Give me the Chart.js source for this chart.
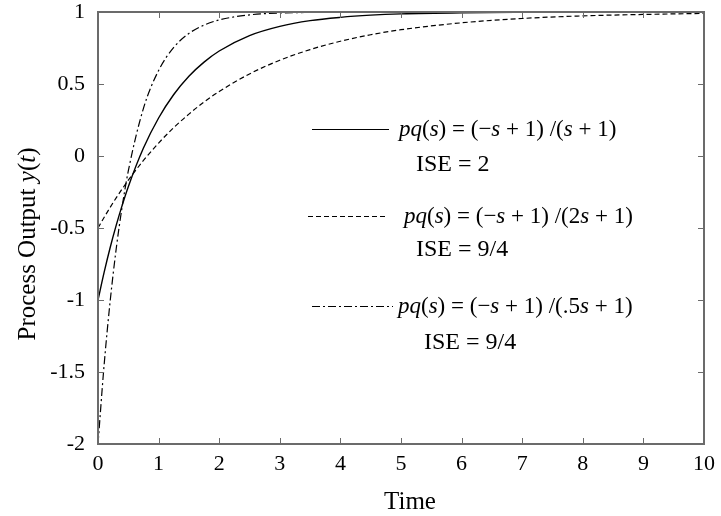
<!DOCTYPE html>
<html lang="en">
<head>
    <meta charset="UTF-8">
    <title>Process Output</title>
    <script src="https://cdn.jsdelivr.net/npm/chart.js"></script>
    <style>
        html, body { margin: 0; padding: 0; background: #ffffff; }
        #wrap { width: 721px; height: 516px; position: relative; }
    </style>
</head>
<body>
    <div id="wrap"><canvas id="respChart" width="721" height="516"></canvas></div>

    <script>
        // time samples and step responses
        const tiempo = [0, 0.1, 0.2, 0.3, 0.4, 0.5, 0.75, 1, 1.25, 1.5, 1.75, 2, 2.5, 3, 3.5, 4, 4.5, 5, 6, 7, 8, 9, 10];
        const salidaS1 = [-1, -0.810, -0.637, -0.482, -0.341, -0.213, 0.055, 0.264, 0.427, 0.554, 0.652, 0.729, 0.836, 0.900, 0.940, 0.963, 0.978, 0.987, 0.995, 0.998, 0.999, 1.0, 1.0];
        const salidaS2 = [-0.5, -0.427, -0.357, -0.291, -0.228, -0.168, -0.031, 0.090, 0.197, 0.291, 0.375, 0.448, 0.570, 0.665, 0.739, 0.797, 0.842, 0.877, 0.925, 0.955, 0.973, 0.983, 0.990];
        const salidaS05 = [-2, -1.456, -1.011, -0.646, -0.348, -0.104, 0.331, 0.594, 0.754, 0.851, 0.909, 0.945, 0.980, 0.993, 0.997, 0.999, 1.0, 1.0, 1.0, 1.0, 1.0, 1.0, 1.0];

        const xTicks = [0, 1, 2, 3, 4, 5, 6, 7, 8, 9, 10];
        const yTicks = [-2, -1.5, -1, -0.5, 0, 0.5, 1];

        const fuente = "'Liberation Serif', 'Times New Roman', serif";

        function puntos(ys) {
            return tiempo.map((t, i) => ({ x: t, y: ys[i] }));
        }

        // draws a line of text made of italic / upright pieces
        function textoMixto(ctx, partes, x, y, size) {
            let cx = x;
            partes.forEach(p => {
                ctx.font = (p[1] ? 'italic ' : '') + size + 'px ' + fuente;
                ctx.fillText(p[0], cx, y);
                cx += ctx.measureText(p[0]).width;
            });
            return cx - x;
        }

        const leyendas = [
            { dash: [], y: 129, x0: 312, x1: 389, tx: 399, isey: 165, isex: 416,
              partes: [['pq', 1], ['(', 0], ['s', 1], [') = (\u2212', 0], ['s', 1], [' + 1) /(', 0], ['s', 1], [' + 1)', 0]],
              ise: 'ISE = 2' },
            { dash: [5, 3], y: 216, x0: 308, x1: 386, tx: 404, isey: 250, isex: 416,
              partes: [['pq', 1], ['(', 0], ['s', 1], [') = (\u2212', 0], ['s', 1], [' + 1) /(2', 0], ['s', 1], [' + 1)', 0]],
              ise: 'ISE = 9/4' },
            { dash: [8, 3, 2, 3], y: 306, x0: 312, x1: 393, tx: 398, isey: 343, isex: 424,
              partes: [['pq', 1], ['(', 0], ['s', 1], [') = (\u2212', 0], ['s', 1], [' + 1) /(.5', 0], ['s', 1], [' + 1)', 0]],
              ise: 'ISE = 9/4' }
        ];

        const marcoPlugin = {
            id: 'marco',
            afterDraw(chart) {
                const ctx = chart.ctx;
                const a = chart.chartArea;
                const xs = chart.scales.x, ys = chart.scales.y;
                ctx.save();
                // frame
                ctx.strokeStyle = '#6b6b6b';
                ctx.lineWidth = 2;
                ctx.strokeRect(a.left, a.top, a.right - a.left, a.bottom - a.top);
                // inward ticks on all sides
                ctx.lineWidth = 1;
                xTicks.forEach(v => {
                    const px = Math.round(xs.getPixelForValue(v)) + 0.5;
                    ctx.beginPath();
                    ctx.moveTo(px, a.bottom); ctx.lineTo(px, a.bottom - 6);
                    ctx.moveTo(px, a.top); ctx.lineTo(px, a.top + 6);
                    ctx.stroke();
                });
                yTicks.forEach(v => {
                    const py = Math.round(ys.getPixelForValue(v)) + 0.5;
                    ctx.beginPath();
                    ctx.moveTo(a.left, py); ctx.lineTo(a.left + 6, py);
                    ctx.moveTo(a.right, py); ctx.lineTo(a.right - 6, py);
                    ctx.stroke();
                });

                // legend inside the plot
                ctx.fillStyle = '#000';
                ctx.textBaseline = 'middle';
                ctx.textAlign = 'left';
                leyendas.forEach(l => {
                    ctx.strokeStyle = '#000';
                    ctx.lineWidth = 1.2;
                    ctx.setLineDash(l.dash);
                    ctx.beginPath();
                    ctx.moveTo(l.x0, l.y + 0.5); ctx.lineTo(l.x1, l.y + 0.5);
                    ctx.stroke();
                    ctx.setLineDash([]);
                    textoMixto(ctx, l.partes, l.tx, l.y + 1, 23);
                    textoMixto(ctx, [[l.ise, 0]], l.isex, l.isey, 24);
                });

                // axis titles
                ctx.textBaseline = 'middle';
                ctx.font = '25px ' + fuente;
                const w = ctx.measureText('Time').width;
                ctx.fillText('Time', 410 - w / 2, 502);

                ctx.translate(28, 244);
                ctx.rotate(-Math.PI / 2);
                const partesY = [['Process Output ', 0], ['y', 1], ['(', 0], ['t', 1], [')', 0]];
                let ancho = 0;
                partesY.forEach(p => {
                    ctx.font = (p[1] ? 'italic ' : '') + '25px ' + fuente;
                    ancho += ctx.measureText(p[0]).width;
                });
                textoMixto(ctx, partesY, -ancho / 2, 0, 25);
                ctx.restore();
            }
        };

        new Chart(document.getElementById('respChart').getContext('2d'), {
            type: 'line',
            data: {
                datasets: [
                    { label: 's+1', data: puntos(salidaS1), borderColor: '#000', borderWidth: 1.4, borderDash: [] },
                    { label: '2s+1', data: puntos(salidaS2), borderColor: '#000', borderWidth: 1.2, borderDash: [5, 3] },
                    { label: '.5s+1', data: puntos(salidaS05), borderColor: '#000', borderWidth: 1.2, borderDash: [8, 3, 2, 3] }
                ]
            },
            options: {
                responsive: false,
                animation: false,
                elements: {
                    point: { radius: 0 },
                    line: { cubicInterpolationMode: 'monotone', fill: false }
                },
                layout: { padding: { left: 0, right: 17, top: 12, bottom: 0 } },
                plugins: { legend: { display: false }, tooltip: { enabled: false } },
                scales: {
                    x: {
                        type: 'linear', min: 0, max: 10,
                        afterFit: s => { s.height = 72; s.paddingLeft = 0; s.paddingRight = 0; },
                        afterBuildTicks: s => { s.ticks = xTicks.map(v => ({ value: v })); },
                        grid: { display: false, drawTicks: false },
                        border: { display: false },
                        ticks: { color: '#000', padding: 8, font: { family: fuente, size: 22, lineHeight: 1.1 }, maxRotation: 0 }
                    },
                    y: {
                        type: 'linear', min: -2, max: 1,
                        afterFit: s => { s.width = 98; s.paddingTop = 0; s.paddingBottom = 0; },
                        afterBuildTicks: s => { s.ticks = yTicks.map(v => ({ value: v })); },
                        grid: { display: false, drawTicks: false },
                        border: { display: false },
                        ticks: { color: '#000', padding: 13, font: { family: fuente, size: 22, lineHeight: 1.1 },
                                 callback: v => String(v) }
                    }
                }
            },
            plugins: [marcoPlugin]
        });
    </script>
</body>
</html>
